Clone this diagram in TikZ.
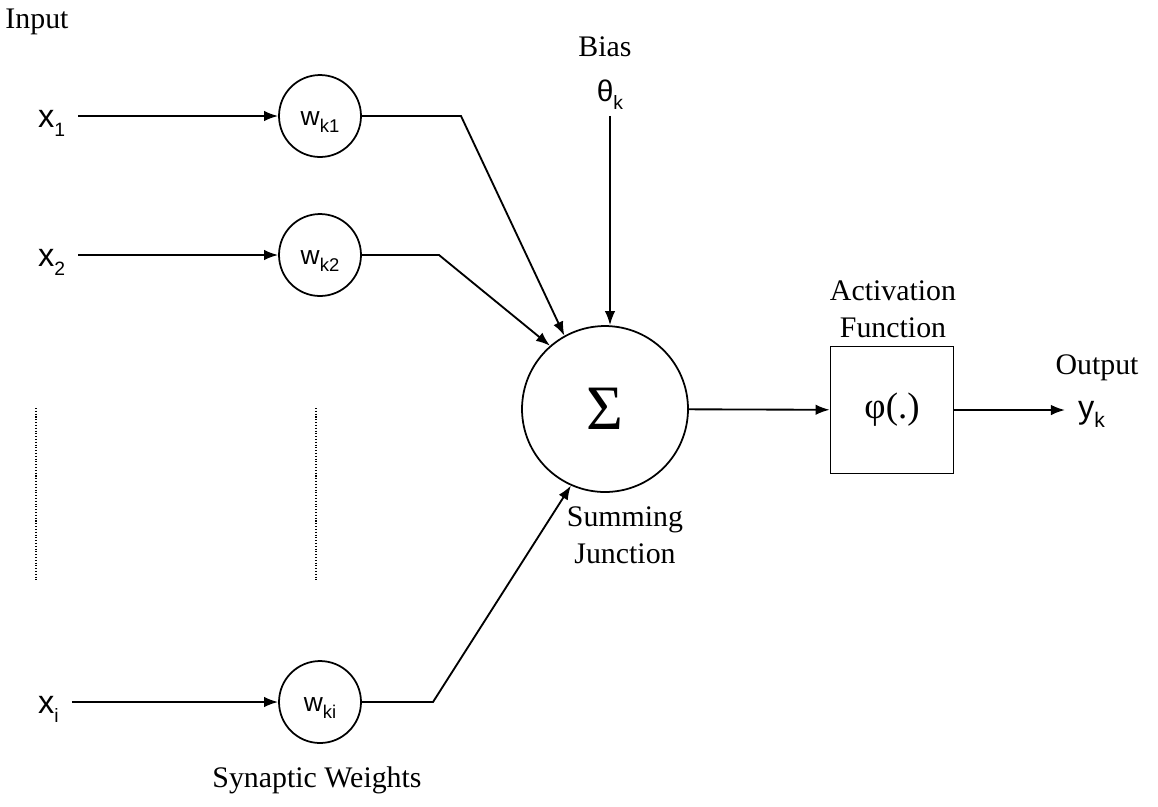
\documentclass[tikz,border=0pt]{standalone}
\usepackage{fontspec}
\setmainfont{Liberation Serif}
\setsansfont{Liberation Sans}
\usetikzlibrary{arrows.meta,calc,positioning}
\newcommand{\lowidx}[2][10.5]{\raisebox{-0.55ex}{\fontsize{#1}{#1}\selectfont #2}}
\tikzset{
  wire/.style={line width=1.05pt},
  feed/.style={wire, -{Latex[length=8pt,width=6pt]}},
  weight/.style={circle, draw, line width=1pt, minimum size=1.64cm, inner sep=0pt, text height=10.5pt, text depth=0pt, font=\sffamily\fontsize{15}{16}\selectfont},
  sumnode/.style={circle, draw, line width=1pt, minimum size=3.32cm, inner sep=0pt, font=\fontsize{36}{38}\selectfont},
  actbox/.style={rectangle, draw, line width=1pt, minimum width=2.46cm, minimum height=2.54cm, inner sep=0pt, font=\fontsize{21}{22}\selectfont},
  sig/.style={font=\sffamily\fontsize{18.5}{20}\selectfont},
  caption/.style={font=\fontsize{17}{21}\selectfont, align=center}
}

\begin{document}
\begin{tikzpicture}[x=0.02cm, y=-0.02cm]
  \useasboundingbox (0,0) rectangle (1158,806);
  \node[sumnode] (sigma) at (605,409) {Σ};
  \node[actbox] (act) at (892,410) {φ(.)};
  % inputs, weights and the way into the sum
  \foreach \n/\y/\k/\a in {1/116/100/119, 2/255/78/131, i/702/72/246}{
    \node[sig, anchor=base west] (x\n) at (32,\y+11) {x\lowidx[11]{\n}};
    \node[weight] (w\n) at (320,\y) {w\lowidx{k\n}};
    \draw[feed, shorten <=4pt] (x\n.east |- w\n) -- (w\n);
    \draw[feed] (w\n) -- ++(41+\k,0) -- (sigma.\a);
  }
  \draw[densely dotted, line width=0.6pt] (36,408) -- (36,580);
  \draw[densely dotted, line width=0.6pt] (316,408) -- (316,580);
  \node[caption] (input) at (37,22) {Input};
  \node[caption] (synw) at (317,780) {Synaptic Weights};
  % bias
  \node[caption] (bias) at (605,47) {Bias};
  \node[font=\sffamily\fontsize{17}{18}\selectfont, anchor=base] (theta) at (610,101) {θ\lowidx[11]{k}};
  \draw[feed] (theta.south) -- (theta.south |- sigma.north);
  \node[caption] (sumlbl) at (625,535) {Summing\\Junction};
  % activation and output
  \node[caption] (actlbl) at (893,309) {Activation\\Function};
  \draw[feed] (sigma) -- (act);
  \node[sig, anchor=base west] (yk) at (1072,418) {y\lowidx[12]{k}};
  \node[caption] (outlbl) at (1097,368) {Output};
  \draw[feed, shorten >=4pt] (act) -- (act -| yk.west);
\end{tikzpicture}
\end{document}
